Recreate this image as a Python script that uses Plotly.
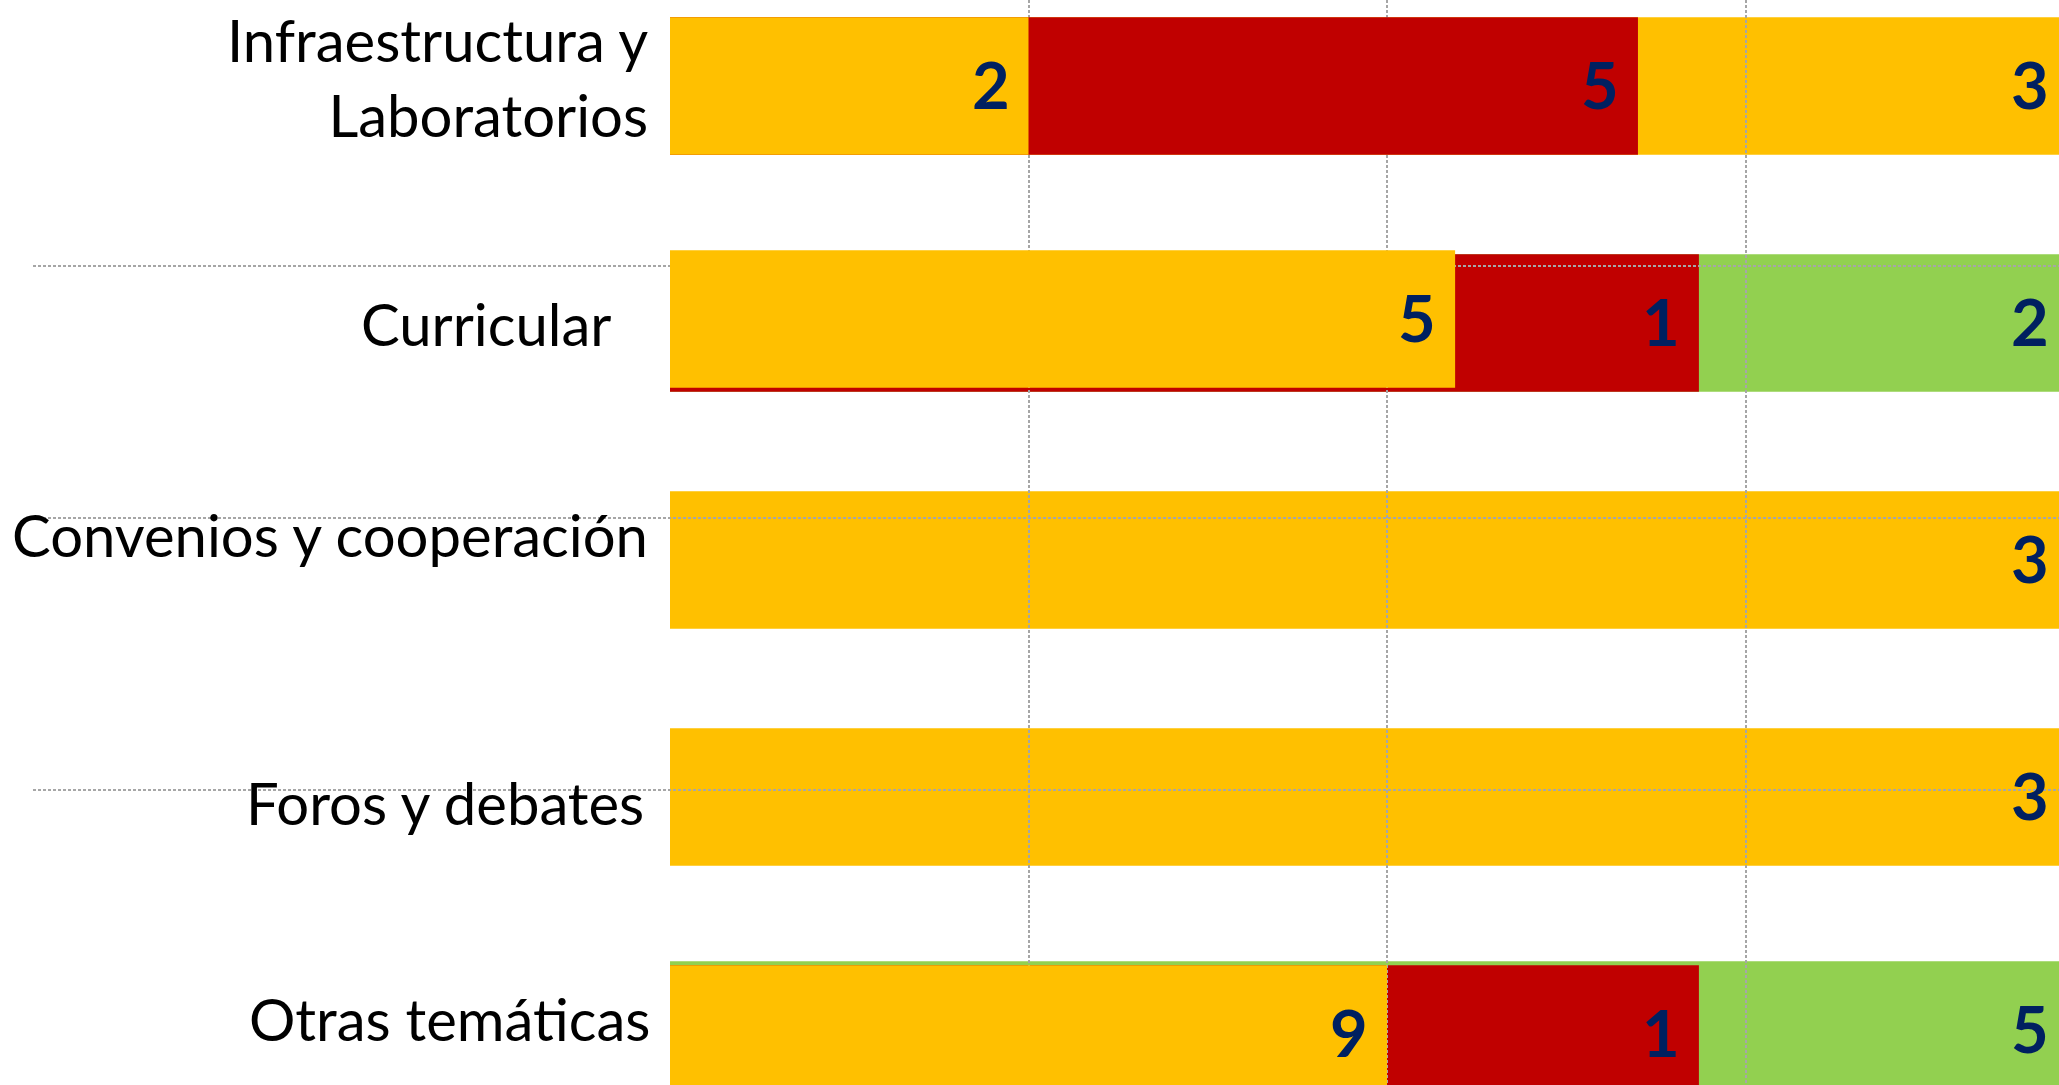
import plotly.graph_objects as go

# ---- data -------------------------------------------------------------
categories = [
    "Infraestructura y Laboratorios",
    "Curricular",
    "Convenios y cooperación",
    "Foros y debates",
    "Otras temáticas",
]
category_text = [
    "Infraestructura y<br>Laboratorios",
    "Curricular",
    "Convenios y cooperación",
    "Foros y debates",
    "Otras temáticas",
]

# counts printed on each segment
first_counts = [2, 5, None, None, 9]
second_counts = [5, 1, None, None, 1]
third_counts = [3, 2, 3, 3, 5]

# where each segment ends on the value axis
first_ends = [1.0, 2.19, None, None, 2.0]
second_ends = [2.7, 2.87, None, None, 2.87]
third_ends = [3.9, 3.9, 3.9, 3.9, 3.9]

# ---- styling / layout constants ---------------------------------------
W, H = 2059, 1085
YELLOW, RED, GREEN = "#FFC000", "#C00000", "#92D050"
NAVY = "#002060"
GRID = "#A6A6A6"

ORIGIN_PX = 670      # where 0 sits across the page
PX_PER_UNIT = 358.5
ROW0_PX = 86         # centre of the first row
ROW_STEP = 237
BAR_W = 0.58
GRID_LEFT_PX = 33

x_range = [(0 - ORIGIN_PX) / PX_PER_UNIT, (W - ORIGIN_PX) / PX_PER_UNIT]
x2_range = [(GRID_LEFT_PX - ORIGIN_PX) / PX_PER_UNIT, x_range[1]]
y_range = [(H - ROW0_PX) / ROW_STEP, (0 - ROW0_PX) / ROW_STEP]  # reversed

grid_cols = [1, 2, 3]
rule_rows = [(266 - ROW0_PX) / ROW_STEP, (518 - ROW0_PX) / ROW_STEP,
             (790 - ROW0_PX) / ROW_STEP]

series = [
    dict(key="first", counts=first_counts, ends=first_ends,
         colors=[YELLOW] * 5, raised=[True] * 5),
    dict(key="second", counts=second_counts, ends=second_ends,
         colors=[RED] * 5, raised=[True, False, False, False, False]),
    dict(key="third", counts=third_counts, ends=third_ends,
         colors=[YELLOW, GREEN, YELLOW, YELLOW, GREEN], raised=[False] * 5),
]
# small upward nudges (px) of some layered bars
nudge_up = {("first", "Curricular"): 4, ("third", "Otras temáticas"): 4}

fig = go.Figure()


def add_layer(raised, xa, ya):
    # back to front: third, second, first
    for s in reversed(series):
        idx = [i for i in range(len(categories))
               if s["ends"][i] is not None and s["raised"][i] == raised]
        if not idx:
            continue
        fig.add_trace(go.Bar(
            orientation="h",
            y=[categories[i] for i in idx],
            x=[s["ends"][i] for i in idx],
            width=BAR_W,
            offset=[-BAR_W / 2 - nudge_up.get((s["key"], categories[i]), 0) / ROW_STEP
                    for i in idx],
            marker=dict(color=[s["colors"][i] for i in idx], line=dict(width=0)),
            xaxis=xa, yaxis=ya, showlegend=False, hoverinfo="skip",
        ))


# bottom layer of bars (grid shows over these)
add_layer(False, "x", "y")
# grid-only subplot
fig.add_trace(go.Scatter(x=[], y=[], xaxis="x2", yaxis="y2",
                         showlegend=False, hoverinfo="skip"))
# top layer of bars (covers the grid)
add_layer(True, "x3", "y3")

# ---- value labels -----------------------------------------------------
LABEL_GAP = 17
annotations = []
for s in series:
    for i, cat in enumerate(categories):
        if s["counts"][i] is None:
            continue
        end = s["ends"][i]
        anchor = min(end, x_range[1])
        shift = -LABEL_GAP + (end - anchor) * PX_PER_UNIT
        annotations.append(dict(
            x=anchor, y=cat, xref="x", yref="y",
            text=str(s["counts"][i]), showarrow=False,
            xanchor="right", yanchor="middle", xshift=shift,
            yshift=nudge_up.get((s["key"], cat), 0) + 2,
            font=dict(family="Lato", size=65, color=NAVY, weight="bold"),
        ))

# ---- category labels --------------------------------------------------
label_right_px = [650, 613, 650, 646, 652]
label_shift = [9, 0, 26, -5, 16]
for i, cat in enumerate(categories):
    annotations.append(dict(
        x=label_right_px[i] / W, xref="paper", y=cat, yref="y",
        text=category_text[i], showarrow=False, align="right",
        xanchor="right", yanchor="middle", yshift=label_shift[i],
        font=dict(family="Lato", size=58, color="#000000"),
    ))

hidden = dict(showticklabels=False, ticks="", showline=False, zeroline=False)
fig.update_layout(
    width=W, height=H,
    margin=dict(l=0, r=0, t=0, b=0, pad=0),
    paper_bgcolor="white", plot_bgcolor="rgba(0,0,0,0)",
    barmode="overlay",
    xaxis=dict(domain=[0, 1], range=x_range, showgrid=False, anchor="y", **hidden),
    yaxis=dict(domain=[0, 1], type="category", categoryorder="array",
               categoryarray=categories, range=y_range, showgrid=False,
               anchor="x", **hidden),
    xaxis2=dict(domain=[GRID_LEFT_PX / W, 1], range=x2_range, anchor="y2",
                tickmode="array", tickvals=grid_cols, showgrid=True,
                gridcolor=GRID, gridwidth=2, griddash="3px,2px", **hidden),
    yaxis2=dict(domain=[0, 1], range=y_range, anchor="x2",
                tickmode="array", tickvals=rule_rows, showgrid=True,
                gridcolor=GRID, gridwidth=2, griddash="3px,2px", **hidden),
    xaxis3=dict(domain=[0, 1], range=x_range, showgrid=False, anchor="y3", **hidden),
    yaxis3=dict(domain=[0, 1], type="category", categoryorder="array",
                categoryarray=categories, range=y_range, showgrid=False,
                anchor="x3", **hidden),
    annotations=annotations,
)

fig.write_html("out.html")
